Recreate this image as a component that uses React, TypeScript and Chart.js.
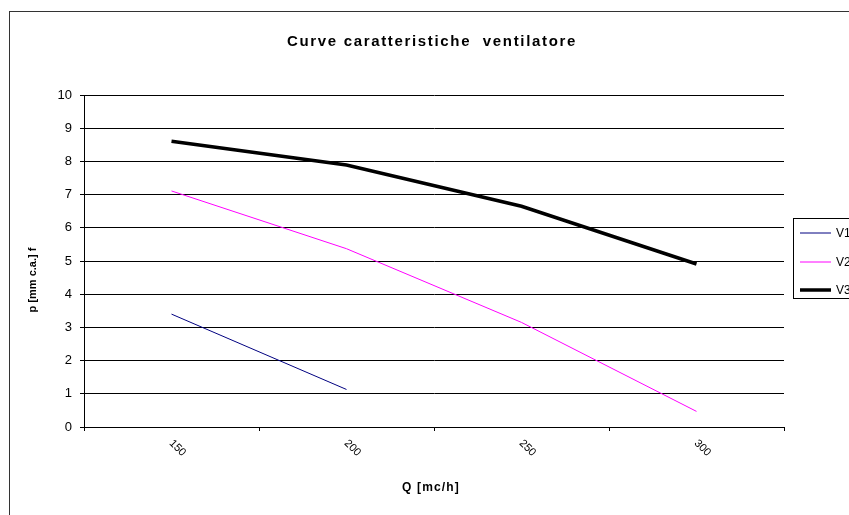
import React, { useEffect, useRef } from "react";
import { Chart, registerables } from "chart.js";

Chart.register(...registerables);

const categories = ["150", "200", "250", "300"];
const v1Values = [3.4, 1.13, null, null];
const v2Values = [7.11, 5.37, 3.15, 0.47];
const v3Values = [8.61, 7.89, 6.65, 4.91];
const yTicks = [0, 1, 2, 3, 4, 5, 6, 7, 8, 9, 10];

const titleText = "Curve caratteristiche  ventilatore";
const yTitle = "p [mm c.a.] f";
const xTitle = "Q [mc/h]";

const FONT = '"Liberation Sans", Arial, sans-serif';

function spacedText(ctx: any, text: string, cx: number, cy: number, targetWidth: number) {
  (ctx as any).letterSpacing = "0px";
  const w = ctx.measureText(text).width;
  const sp = Math.max(0, (targetWidth - w) / text.length);
  (ctx as any).letterSpacing = sp + "px";
  ctx.textAlign = "left";
  ctx.fillText(text, cx - targetWidth / 2, cy);
  (ctx as any).letterSpacing = "0px";
}

const decorPlugin = {
  id: "decor",
  afterDraw(chart: any) {
    const ctx = chart.ctx;
    const xScale = chart.scales.x;
    ctx.save();
    // outer chart border
    ctx.strokeStyle = "#333";
    ctx.lineWidth = 1;
    ctx.strokeRect(9.5, 11.5, 900, 600);

    // title
    ctx.fillStyle = "#000";
    ctx.font = `bold 15px ${FONT}`;
    ctx.textBaseline = "middle";
    spacedText(ctx, titleText, 432, 42, 290);

    // y title
    ctx.textAlign = "center";
    ctx.font = `bold 11px ${FONT}`;
    ctx.save();
    ctx.translate(33, 280);
    ctx.rotate(-Math.PI / 2);
    ctx.fillText(yTitle, 0, 0);
    ctx.restore();

    // x title
    ctx.font = `bold 12px ${FONT}`;
    spacedText(ctx, xTitle, 431, 488, 58);

    // x tick labels rotated
    ctx.textAlign = "center";
    ctx.font = `11px ${FONT}`;
    categories.forEach((c, i) => {
      const px = xScale.getPixelForValue(i);
      ctx.save();
      ctx.translate(px + 6, 448);
      ctx.rotate(Math.PI / 4);
      ctx.fillText(c, 0, 0);
      ctx.restore();
    });

    // legend
    const boxX = 793.5;
    const boxY = 218.5;
    ctx.strokeStyle = "#000";
    ctx.lineWidth = 1;
    ctx.strokeRect(boxX, boxY, 100, 80);
    ctx.textAlign = "left";
    ctx.font = `12px ${FONT}`;
    const rows = [233, 262, 290];
    chart.data.datasets.forEach((ds: any, i: number) => {
      const y = rows[i];
      ctx.strokeStyle = ds.borderColor;
      ctx.lineWidth = ds.borderWidth;
      ctx.beginPath();
      ctx.moveTo(800, y);
      ctx.lineTo(831, y);
      ctx.stroke();
      ctx.fillStyle = "#000";
      ctx.fillText(ds.label, 836, y + 1);
    });
    ctx.restore();
  },
};

export default function App() {
  const ref = useRef<HTMLCanvasElement>(null);
  useEffect(() => {
    if (!ref.current) return;
    const chart = new Chart(ref.current, {
      type: "line",
      data: {
        labels: categories,
        datasets: [
          { label: "V1", data: v1Values, borderColor: "#000080", borderWidth: 1, pointRadius: 0, tension: 0, fill: false },
          { label: "V2", data: v2Values, borderColor: "#FF00FF", borderWidth: 1, pointRadius: 0, tension: 0, fill: false },
          { label: "V3", data: v3Values, borderColor: "#000000", borderWidth: 3.5, pointRadius: 0, tension: 0, fill: false },
        ],
      },
      options: {
        responsive: false,
        animation: false,
        layout: { padding: { left: 0, top: 95, right: 65, bottom: 0 } },
        plugins: { legend: { display: false }, title: { display: false }, tooltip: { enabled: false } },
        scales: {
          x: {
            type: "category",
            offset: true,
            grid: { offset: true, drawOnChartArea: false, drawTicks: true, tickLength: 4, color: "#000" },
            border: { display: true, color: "#000", width: 1 },
            ticks: { display: false },
            afterFit(scale: any) { scale.height = 88; },
          },
          y: {
            min: 0,
            max: 10,
            afterBuildTicks(scale: any) { scale.ticks = yTicks.map((v) => ({ value: v })); },
            ticks: { stepSize: 1, color: "#000", font: { family: FONT, size: 13 }, padding: 8 },
            grid: { color: "#000", lineWidth: 1, tickLength: 4, drawTicks: true },
            border: { display: true, color: "#000", width: 1 },
            afterFit(scale: any) { scale.width = 84; },
          },
        },
      },
      plugins: [decorPlugin],
    } as any);
    return () => chart.destroy();
  }, []);
  return (
    <div style={{ position: "fixed", left: 0, top: 0, width: 849, height: 515, background: "#fff" }}>
      <canvas ref={ref} width={849} height={515} />
    </div>
  );
}
